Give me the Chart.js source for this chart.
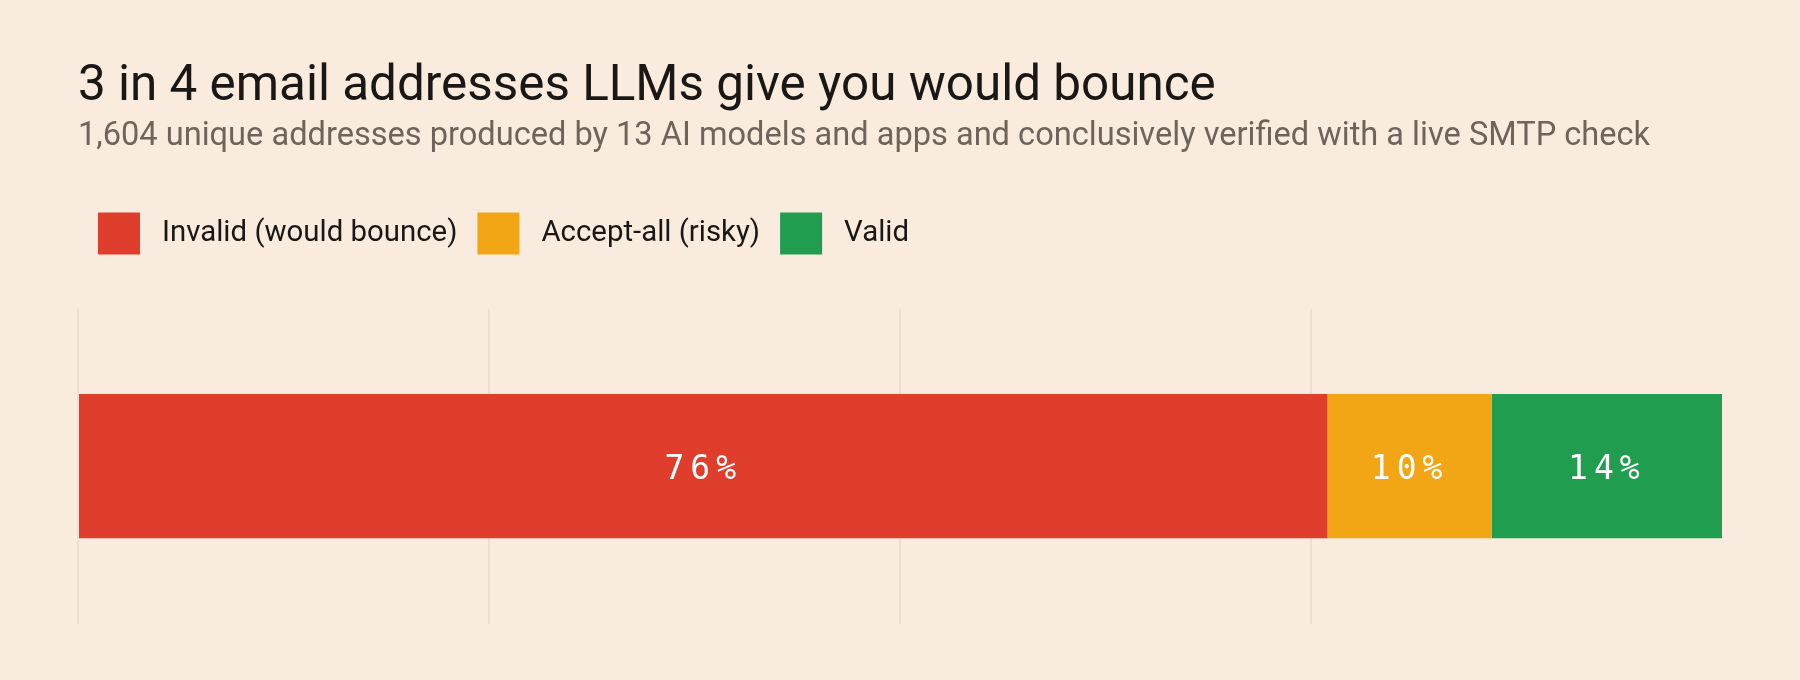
<!DOCTYPE html>
<html>
<head>
<meta charset="utf-8">
<script src="https://cdn.jsdelivr.net/npm/chart.js@4.4.1/dist/chart.umd.min.js"></script>
<style>
  html, body { margin: 0; padding: 0; background: #faebdf; }
  #wrap { width: 1800px; height: 680px; position: relative; }
</style>
</head>
<body>
<div id="wrap"><canvas id="barChart"></canvas></div>
<script>
// data
const categories = ['All addresses'];
const seriesNames = ['Invalid (would bounce)', 'Accept-all (risky)', 'Valid'];
const invalidPct = [76];
const acceptAllPct = [10];
const validPct = [14];
const xTicks = [0, 25, 50, 75, 100];

const colors = ['#e03e2d', '#f2a515', '#209d4f'];
const bg = '#faebdf';
const gridColor = '#efdfcf';

// white % labels in the middle of each segment
const segmentLabels = {
  id: 'segmentLabels',
  afterDatasetsDraw(chart) {
    const ctx = chart.ctx;
    ctx.save();
    ctx.font = '33px "DejaVu Sans Mono", monospace';
    ctx.letterSpacing = '6px';
    ctx.fillStyle = '#ffffff';
    ctx.textAlign = 'center';
    ctx.textBaseline = 'middle';
    chart.data.datasets.forEach((ds, i) => {
      chart.getDatasetMeta(i).data.forEach((bar, j) => {
        const cx = (bar.x + bar.base) / 2;
        ctx.fillText(ds.data[j] + '%', cx, bar.y + 4);
      });
    });
    ctx.restore();
  }
};

// extra room under the legend
const legendGap = {
  id: 'legendGap',
  beforeInit(chart) {
    const fit = chart.legend.fit;
    chart.legend.fit = function () {
      fit.call(this);
      this.height += 44;
    };
  }
};

const ctx = document.getElementById('barChart').getContext('2d');
const barChart = new Chart(ctx, {
  type: 'bar',
  data: {
    labels: categories,
    datasets: [
      { label: seriesNames[0], data: invalidPct, backgroundColor: colors[0] },
      { label: seriesNames[1], data: acceptAllPct, backgroundColor: colors[1] },
      { label: seriesNames[2], data: validPct, backgroundColor: colors[2] },
    ],
  },
  options: {
    indexAxis: 'y',
    responsive: true,
    maintainAspectRatio: false,
    animation: false,
    layout: { padding: { top: 58, left: 78, right: 78, bottom: 56 } },
    datasets: { bar: { barPercentage: 0.457, categoryPercentage: 1, borderWidth: 0 } },
    scales: {
      x: {
        stacked: true,
        min: 0,
        max: 100,
        afterBuildTicks: (axis) => { axis.ticks = xTicks.map(v => ({ value: v })); },
        ticks: { display: false },
        border: { display: false },
        grid: {
          drawTicks: false,
          lineWidth: 2,
          color: (c) => (c.tick && c.tick.value === 100 ? 'rgba(0,0,0,0)' : gridColor),
        },
      },
      y: { stacked: true, display: false },
    },
    plugins: {
      title: {
        display: true,
        align: 'start',
        text: '3 in 4 email addresses LLMs give you would bounce',
        color: '#1a1714',
        font: { family: 'Roboto', size: 49.4, weight: 'normal' },
        padding: { top: 0, bottom: 0 },
      },
      subtitle: {
        display: true,
        align: 'start',
        text: '1,604 unique addresses produced by 13 AI models and apps and conclusively verified with a live SMTP check',
        color: '#6e645b',
        font: { family: 'Roboto', size: 32.6, weight: 'normal' },
        padding: { top: 0, bottom: 36 },
      },
      legend: {
        display: true,
        align: 'start',
        labels: {
          boxWidth: 42,
          boxHeight: 42,
          padding: 20,
          color: '#1a1714',
          font: { family: 'Roboto', size: 29.4 },
          generateLabels(chart) {
            const items = Chart.defaults.plugins.legend.labels.generateLabels(chart);
            items.forEach(it => { it.text = ' ' + it.text; });
            return items;
          },
        },
      },
      tooltip: { enabled: false },
    },
  },
  plugins: [
    {
      id: 'bgFill',
      beforeDraw(chart) {
        const c = chart.ctx;
        c.save();
        c.fillStyle = bg;
        c.fillRect(0, 0, chart.width, chart.height);
        c.restore();
      },
    },
    legendGap,
    segmentLabels,
  ],
});
</script>
</body>
</html>
